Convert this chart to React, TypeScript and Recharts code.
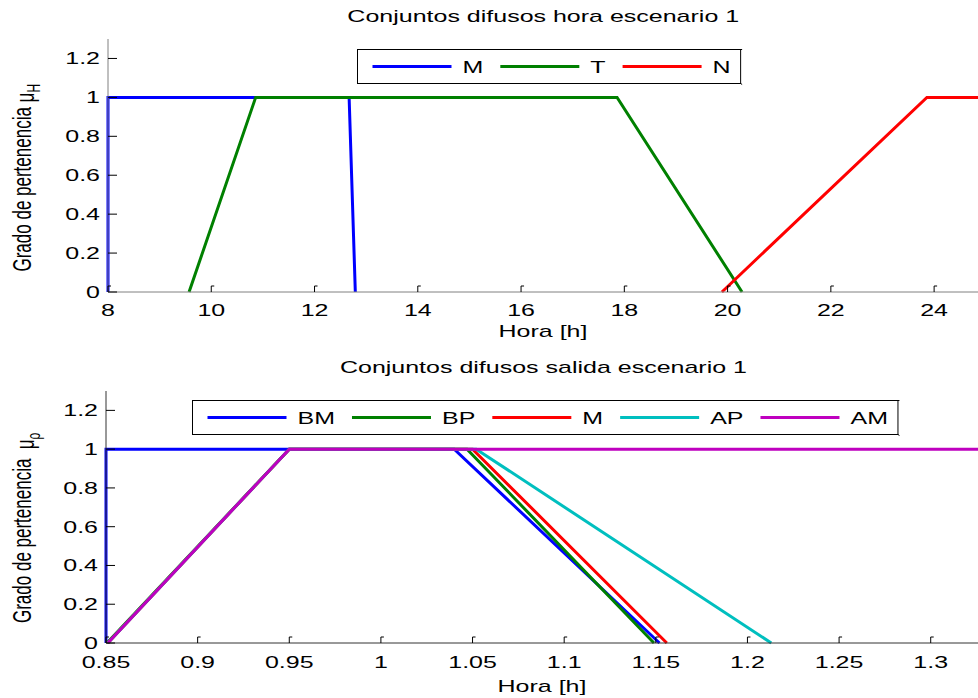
import React from 'react';
import { LineChart, Line, XAxis, YAxis, Legend } from 'recharts';

const SX = 1.47;
const FONT = '"Liberation Sans", Arial, Helvetica, sans-serif';

// ---------- top chart data ----------
const horaTitle = 'Conjuntos difusos hora escenario 1';
const horaTicks = [8, 10, 12, 14, 16, 18, 20, 22, 24];
const horaDomain: [number, number] = [8, 24.85];
const memTicks = [0, 0.2, 0.4, 0.6, 0.8, 1, 1.2];
const memDomain: [number, number] = [0, 1.3];

const horaM_x = [8, 8, 12.67, 12.79];
const horaM_y = [0, 1, 1, 0];
const horaT_x = [9.57, 10.86, 17.86, 20.28];
const horaT_y = [0, 1, 1, 0];
const horaN_x = [19.89, 23.86, 24.85];
const horaN_y = [0, 1, 1];

// ---------- bottom chart data ----------
const salTitle = 'Conjuntos difusos salida escenario 1';
const salTicks = [0.85, 0.9, 0.95, 1, 1.05, 1.1, 1.15, 1.2, 1.25, 1.3];
const salDomain: [number, number] = [0.85, 1.3258];

const salBM_x = [0.85, 0.85, 1.04, 1.152];
const salBM_y = [0, 1, 1, 0];
const salBP_x = [0.8505, 0.95, 1.047, 1.149];
const salBP_y = [0, 1, 1, 0];
const salM_x = [0.851, 0.95, 1.05, 1.156];
const salM_y = [0, 1, 1, 0];
const salAP_x = [0.851, 0.95, 1.052, 1.213];
const salAP_y = [0, 1, 1, 0];
const salAM_x = [0.851, 0.95, 1.3258];
const salAM_y = [0, 1, 1];

const zip = (xs: number[], ys: number[]) => xs.map((x, i) => ({ x, y: ys[i] }));

const horaSeries = [
  { name: 'M', color: '#0000ff', data: zip(horaM_x, horaM_y) },
  { name: 'T', color: '#008000', data: zip(horaT_x, horaT_y) },
  { name: 'N', color: '#ff0000', data: zip(horaN_x, horaN_y) },
];
const salSeries = [
  { name: 'BM', color: '#0000ff', data: zip(salBM_x, salBM_y) },
  { name: 'BP', color: '#008000', data: zip(salBP_x, salBP_y) },
  { name: 'M', color: '#ff0000', data: zip(salM_x, salM_y) },
  { name: 'AP', color: '#00bfbf', data: zip(salAP_x, salAP_y) },
  { name: 'AM', color: '#bf00bf', data: zip(salAM_x, salAM_y) },
];

function SText({ x, y, anchor = 'middle', size = 17, rotate = false, children }: any) {
  const t = rotate
    ? `translate(${x},${y}) scale(${SX},1) rotate(-90)`
    : `translate(${x},${y}) scale(${SX},1)`;
  return (
    <text transform={t} x={0} y={0} textAnchor={anchor} fontFamily={FONT} fontSize={size} fill="#000">
      {children}
    </text>
  );
}

const makeXTick = (baseOff: number, color: string) => (props: any) => {
  const { x, y, payload } = props;
  return (
    <g>
      <path d={`M${x},${y} L${x},${y - 6} L${x + 3},${y - 6}`} stroke={color} fill="none" strokeWidth={1} />
      <SText x={x} y={y + baseOff}>{String(payload.value)}</SText>
    </g>
  );
};

const makeYTick = (color: string) => (props: any) => {
  const { x, y, payload } = props;
  return (
    <g>
      <line x1={x} y1={y} x2={x + 9} y2={y} stroke={color} strokeWidth={1} />
      <SText x={x - 8} y={y + 6} anchor="end">{String(payload.value)}</SText>
    </g>
  );
};

const charW: Record<string, number> = { M: 0.833, T: 0.611, N: 0.722, B: 0.667, P: 0.667, A: 0.667 };
const textW = (s: string) => s.split('').reduce((a, c) => a + (charW[c] ?? 0.6), 0) * 17 * SX;

function LegendBox({ items }: any) {
  const padL = 15, lineL = 79, gap1 = 11, gap2 = 17, padR = 10;
  let cx = padL;
  const pos = (items as any[]).map((it) => {
    const p = { lx: cx, tx: cx + lineL + gap1 };
    cx = p.tx + textW(String(it.name)) + gap2;
    return p;
  });
  const boxW = cx - gap2 + padR;
  const H = 34;
  return (
    <svg width={boxW + 4} height={H + 4} style={{ display: 'block' }}>
      <rect x={1.5} y={1.5} width={boxW} height={H} fill="#fff" stroke="#000" strokeWidth={1} />
      <path d={`M${boxW + 1.5},${1.5} L${boxW + 3},${1.5} M${boxW + 1.5},${H + 1.5} L${boxW + 3},${H + 2.5}`} stroke="#000" strokeWidth={1} />
      {(items as any[]).map((it, i) => (
        <g key={i}>
          <line x1={pos[i].lx + 1.5} x2={pos[i].lx + lineL + 1.5} y1={H / 2 + 1.5} y2={H / 2 + 1.5} stroke={it.color} strokeWidth={3} />
          <SText x={pos[i].tx + 1.5} y={H / 2 + 7.5} anchor="start">{String(it.name)}</SText>
        </g>
      ))}
    </svg>
  );
}

const yLabel = (sub: string, gapSpace: boolean) => (props: any) => {
  const vb = props.viewBox || {};
  const cy = vb.y + vb.height / 2;
  return (
    <text
      transform={`translate(31,${cy + 106}) scale(${SX},1) rotate(-90)`}
      textAnchor="start"
      fontFamily={FONT}
      fontSize={17}
      fill="#000"
    >
      <tspan>{gapSpace ? 'Grado de pertenencia \u00a0' : 'Grado de pertenencia '}</tspan>
      <tspan dy={2}>μ</tspan>
      <tspan dy={4} fontSize={12}>{sub}</tspan>
    </text>
  );
};

const xLabel = (off: number) => (props: any) => {
  const vb = props.viewBox || {};
  return (
    <SText x={vb.x + vb.width / 2} y={vb.y + off}>Hora [h]</SText>
  );
};

function Title({ top, children }: any) {
  return (
    <div
      style={{
        position: 'absolute',
        left: 108,
        width: 870,
        top,
        textAlign: 'center',
        fontFamily: FONT,
        fontSize: 17,
        lineHeight: '20px',
        color: '#000',
      }}
    >
      <span style={{ display: 'inline-block', transform: `scaleX(${SX})` }}>{children}</span>
    </div>
  );
}

export default function App() {
  const topAxis = '#808080';
  const botAxis = '#333333';
  return (
    <div style={{ position: 'absolute', left: 0, top: 0, width: 978, height: 698, background: '#fff', overflow: 'hidden' }}>
      <Title top={7}>{horaTitle}</Title>
      <div style={{ position: 'absolute', left: 0, top: 0 }}>
        <LineChart width={978} height={345} margin={{ top: 39, right: 0, left: 48, bottom: 8 }}>
          <XAxis
            dataKey="x"
            type="number"
            domain={horaDomain}
            ticks={horaTicks}
            tickSize={0}
            tickMargin={0}
            tickLine={false}
            height={45}
            axisLine={{ stroke: topAxis }}
            tick={makeXTick(24, '#000')}
            label={{ content: xLabel(45) }}
            interval={0}
          />
          <YAxis
            type="number"
            domain={memDomain}
            ticks={memTicks}
            tickSize={0}
            tickMargin={0}
            tickLine={false}
            width={60}
            axisLine={{ stroke: topAxis }}
            tick={makeYTick('#000')}
            label={{ content: yLabel('H', false) }}
            interval={0}
          />
          {horaSeries.map((s) => (
            <Line
              key={s.name}
              data={s.data}
              dataKey="y"
              name={s.name}
              stroke={s.color}
              strokeWidth={3}
              dot={false}
              activeDot={false}
              type="linear"
              isAnimationActive={false}
            />
          ))}
          <Legend
            layout="horizontal"
            verticalAlign="middle"
            align="center"
            wrapperStyle={{ left: 356, top: 48 }}
            content={() => <LegendBox items={horaSeries} />}
          />
        </LineChart>
      </div>

      <Title top={358}>{salTitle}</Title>
      <div style={{ position: 'absolute', left: 0, top: 352 }}>
        <LineChart width={978} height={346} margin={{ top: 39, right: 0, left: 46, bottom: 10 }}>
          <XAxis
            dataKey="x"
            type="number"
            domain={salDomain}
            ticks={salTicks}
            tickSize={0}
            tickMargin={0}
            tickLine={false}
            height={45}
            axisLine={{ stroke: botAxis }}
            tick={makeXTick(25, '#000')}
            label={{ content: xLabel(49) }}
            interval={0}
          />
          <YAxis
            type="number"
            domain={memDomain}
            ticks={memTicks}
            tickSize={0}
            tickMargin={0}
            tickLine={false}
            width={60}
            axisLine={{ stroke: botAxis }}
            tick={makeYTick('#000')}
            label={{ content: yLabel('ρ', true) }}
            interval={0}
          />
          {salSeries.map((s) => (
            <Line
              key={s.name}
              data={s.data}
              dataKey="y"
              name={s.name}
              stroke={s.color}
              strokeWidth={3}
              dot={false}
              activeDot={false}
              type="linear"
              isAnimationActive={false}
            />
          ))}
          <Legend
            layout="horizontal"
            verticalAlign="middle"
            align="center"
            wrapperStyle={{ left: 191, top: 47 }}
            content={() => <LegendBox items={salSeries} />}
          />
        </LineChart>
      </div>
    </div>
  );
}
